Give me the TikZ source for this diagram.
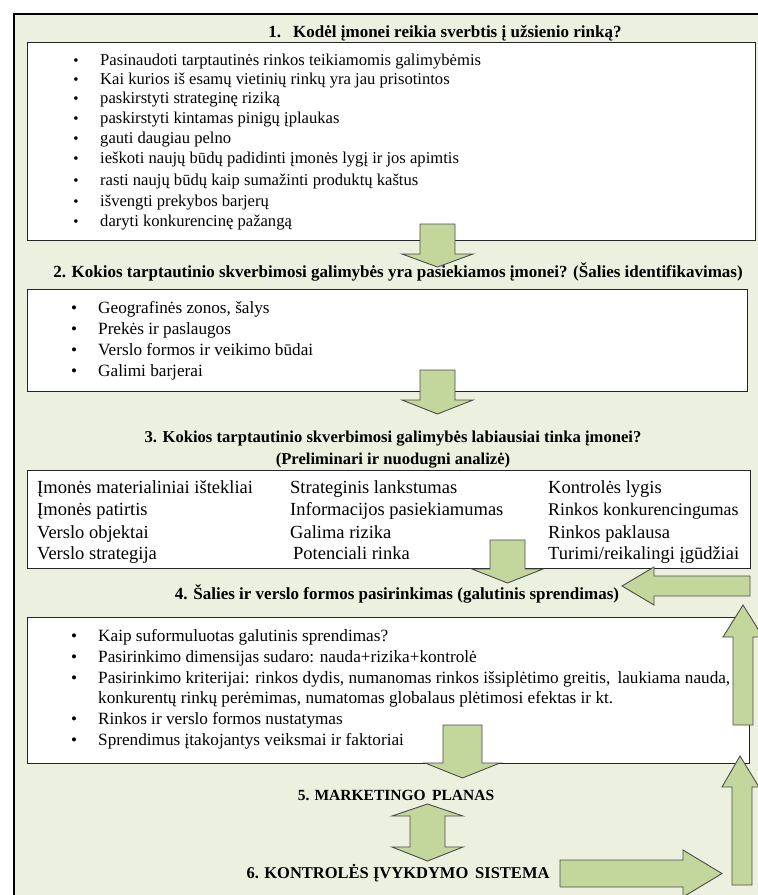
\documentclass[tikz,border=0pt]{standalone}
\usepackage{fontspec}
\setmainfont{Liberation Serif}
\usepackage{xcolor}
\usetikzlibrary{positioning}

\definecolor{bggreen}{HTML}{EBF1DE}
\definecolor{arrowgreen}{HTML}{C3D69B}

\begin{document}
\begin{tikzpicture}[x=1pt,y=-1pt,
    box/.style={draw=black!85,line width=0.9pt,fill=white,anchor=north west,inner sep=0pt},
    fat/.style={draw=black!70,line width=0.9pt,fill=arrowgreen,line join=miter},
    ttl/.style={anchor=base,inner sep=0pt,font=\fontsize{17}{20}\selectfont\bfseries},
    txt/.style={anchor=base west,inner sep=0pt,font=\fontsize{17.2}{20}\selectfont},
    tbl/.style={anchor=base west,inner sep=0pt,font=\fontsize{18.5}{22}\selectfont},
    bul/.style={anchor=base,inner sep=0pt,font=\fontsize{17}{20}\selectfont}]
    \useasboundingbox (0,0) rectangle (758,895);
    \clip (0,0) rectangle (758,895);
    \draw[line width=2.5pt,fill=bggreen] (14,14) rectangle (780,920);

    % boxes
    \node[box,minimum width=728,minimum height=198] (b1) at (27,42) {};
    \node[box,minimum width=720,minimum height=102] (b2) at (27,289) {};
    \node[box,minimum width=723,minimum height=98] (b3) at (27,470) {};
    \node[box,minimum width=722,minimum height=146] (b4) at (27,617) {};

    % 1
    \node[ttl] (q1) at (445,37) {1.\hspace{12pt}Kodėl įmonei reikia sverbtis į užsienio rinką?};
    \node[bul,font=\fontsize{15}{20}\selectfont] (d11) at (76,65) {•};
    \node[txt,font=\fontsize{16.6}{20}\selectfont] (i11) at (100,65) {Pasinaudoti tarptautinės rinkos teikiamomis galimybėmis};
    \node[bul,font=\fontsize{15}{20}\selectfont] (d12) at (76,84) {•};
    \node[txt,font=\fontsize{16.6}{20}\selectfont] (i12) at (100,84) {Kai kurios iš esamų vietinių rinkų yra jau prisotintos};
    \node[bul,font=\fontsize{15}{20}\selectfont] (d13) at (76,103) {•};
    \node[txt,font=\fontsize{16.6}{20}\selectfont] (i13) at (100,103) {paskirstyti strateginę riziką};
    \node[bul,font=\fontsize{15}{20}\selectfont] (d14) at (76,123) {•};
    \node[txt,font=\fontsize{16.6}{20}\selectfont] (i14) at (100,123) {paskirstyti kintamas pinigų įplaukas};
    \node[bul,font=\fontsize{15}{20}\selectfont] (d15) at (76,143) {•};
    \node[txt,font=\fontsize{16.6}{20}\selectfont] (i15) at (100,143) {gauti daugiau pelno};
    \node[bul,font=\fontsize{15}{20}\selectfont] (d16) at (76,163) {•};
    \node[txt,font=\fontsize{16.6}{20}\selectfont] (i16) at (100,163) {ieškoti naujų būdų padidinti įmonės lygį ir jos apimtis};
    \node[bul,font=\fontsize{15}{20}\selectfont] (d17) at (76,185) {•};
    \node[txt,font=\fontsize{16.6}{20}\selectfont] (i17) at (100,185) {rasti naujų būdų kaip sumažinti produktų kaštus};
    \node[bul,font=\fontsize{15}{20}\selectfont] (d18) at (76,206) {•};
    \node[txt,font=\fontsize{16.6}{20}\selectfont] (i18) at (100,206) {išvengti prekybos barjerų};
    \node[bul,font=\fontsize{15}{20}\selectfont] (d19) at (76,226) {•};
    \node[txt,font=\fontsize{16.6}{20}\selectfont] (i19) at (100,226) {daryti konkurencinę pažangą};

    % 2
    \node[ttl] (q2) at (398,277) {2. Kokios tarptautinio skverbimosi galimybės yra pasiekiamos įmonei? (Šalies identifikavimas)};
    \node[bul] (d21) at (74,313) {•};
    \node[txt] (i21) at (98,313) {Geografinės zonos, šalys};
    \node[bul] (d22) at (74,334) {•};
    \node[txt] (i22) at (98,334) {Prekės ir paslaugos};
    \node[bul] (d23) at (74,355) {•};
    \node[txt] (i23) at (98,355) {Verslo formos ir veikimo būdai};
    \node[bul] (d24) at (74,376) {•};
    \node[txt] (i24) at (98,376) {Galimi barjerai};

    % 3
    \node[ttl,font=\fontsize{16.6}{20}\selectfont\bfseries] (q3) at (393,442) {3. Kokios tarptautinio skverbimosi galimybės labiausiai tinka įmonei?};
    \node[ttl,font=\fontsize{16.6}{20}\selectfont\bfseries] (q3b) at (393,464) {(Preliminari ir nuodugni analizė)};
    \node[tbl] (c11) at (37,493) {Įmonės materialiniai ištekliai};
    \node[tbl] (c12) at (290,493) {Strateginis lankstumas};
    \node[tbl] (c13) at (548,493) {Kontrolės lygis};
    \node[tbl] (c21) at (37,515) {Įmonės patirtis};
    \node[tbl] (c22) at (290,515) {Informacijos pasiekiamumas};
    \node[tbl,font=\fontsize{17.8}{22}\selectfont] (c23) at (548,515) {Rinkos konkurencingumas};
    \node[tbl] (c31) at (37,538) {Verslo objektai};
    \node[tbl] (c32) at (290,538) {Galima rizika};
    \node[tbl] (c33) at (548,538) {Rinkos paklausa};
    \node[tbl] (c41) at (37,559) {Verslo strategija};
    \node[tbl] (c42) at (293,559) {Potenciali rinka};
    \node[tbl] (c43) at (548,559) {Turimi/reikalingi įgūdžiai};

    % 4
    \node[ttl] (q4) at (397,599) {4. Šalies ir verslo formos pasirinkimas (galutinis sprendimas)};
    \node[bul] (d41) at (74,641) {•};
    \node[txt] (i41) at (98,641) {Kaip suformuluotas galutinis sprendimas?};
    \node[bul] (d42) at (74,662) {•};
    \node[txt] (i42) at (98,662) {Pasirinkimo dimensijas sudaro: nauda+rizika+kontrolė};
    \node[bul] (d43) at (74,683) {•};
    \node[txt] (i43) at (98,683) {Pasirinkimo kriterijai: rinkos dydis, numanomas rinkos išsiplėtimo greitis,\, laukiama nauda,};
    \node[txt] (i43b) at (98,703) {konkurentų rinkų perėmimas, numatomas globalaus plėtimosi efektas ir kt.};
    \node[bul] (d44) at (74,724) {•};
    \node[txt] (i44) at (98,724) {Rinkos ir verslo formos nustatymas};
    \node[bul] (d45) at (74,745) {•};
    \node[txt] (i45) at (98,745) {Sprendimus įtakojantys veiksmai ir faktoriai};

    % 5, 6
    \node[ttl,font=\fontsize{15.5}{20}\selectfont\bfseries] (q5) at (396,800) {5. MARKETINGO\, PLANAS};
    \node[ttl,font=\fontsize{16.5}{20}\selectfont\bfseries] (q6) at (398,878) {6. KONTROLĖS ĮVYKDYMO\, SISTEMA};

    % arrows
    \draw[fat] (420,224) -- (455,224) -- (455,254) -- (473,254) -- (437.5,267) -- (402,254) -- (420,254) -- cycle;
    \draw[fat] (420,370) -- (455,370) -- (455,400) -- (473,400) -- (437.5,414) -- (402,400) -- (420,400) -- cycle;
    \draw[fat] (490,540) -- (525,540) -- (525,569) -- (543,569) -- (507.5,583) -- (472,569) -- (490,569) -- cycle;
    \draw[fat] (443,725) -- (482,725) -- (482,763) -- (500,763) -- (462.5,778) -- (425,763) -- (443,763) -- cycle;
    \draw[fat] (427.5,804) -- (463,816) -- (445,816) -- (445,847) -- (463,847) -- (427.5,861) -- (392,847) -- (410,847) -- (410,816) -- (392,816) -- cycle;
    \draw[fat] (750,576) -- (750,596) -- (654,596) -- (654,605) -- (622,586) -- (654,567) -- (654,576) -- cycle;
    \draw[fat] (733,725) -- (753,725) -- (753,637) -- (763,637) -- (743,605) -- (723,637) -- (733,637) -- cycle;
    \draw[fat] (732,885) -- (752,885) -- (752,787) -- (759,787) -- (740,756) -- (722,787) -- (732,787) -- cycle;
    \draw[fat] (560,860) -- (683,860) -- (683,850) -- (722,873.5) -- (683,897) -- (683,887) -- (560,887) -- cycle;
\end{tikzpicture}
\end{document}
